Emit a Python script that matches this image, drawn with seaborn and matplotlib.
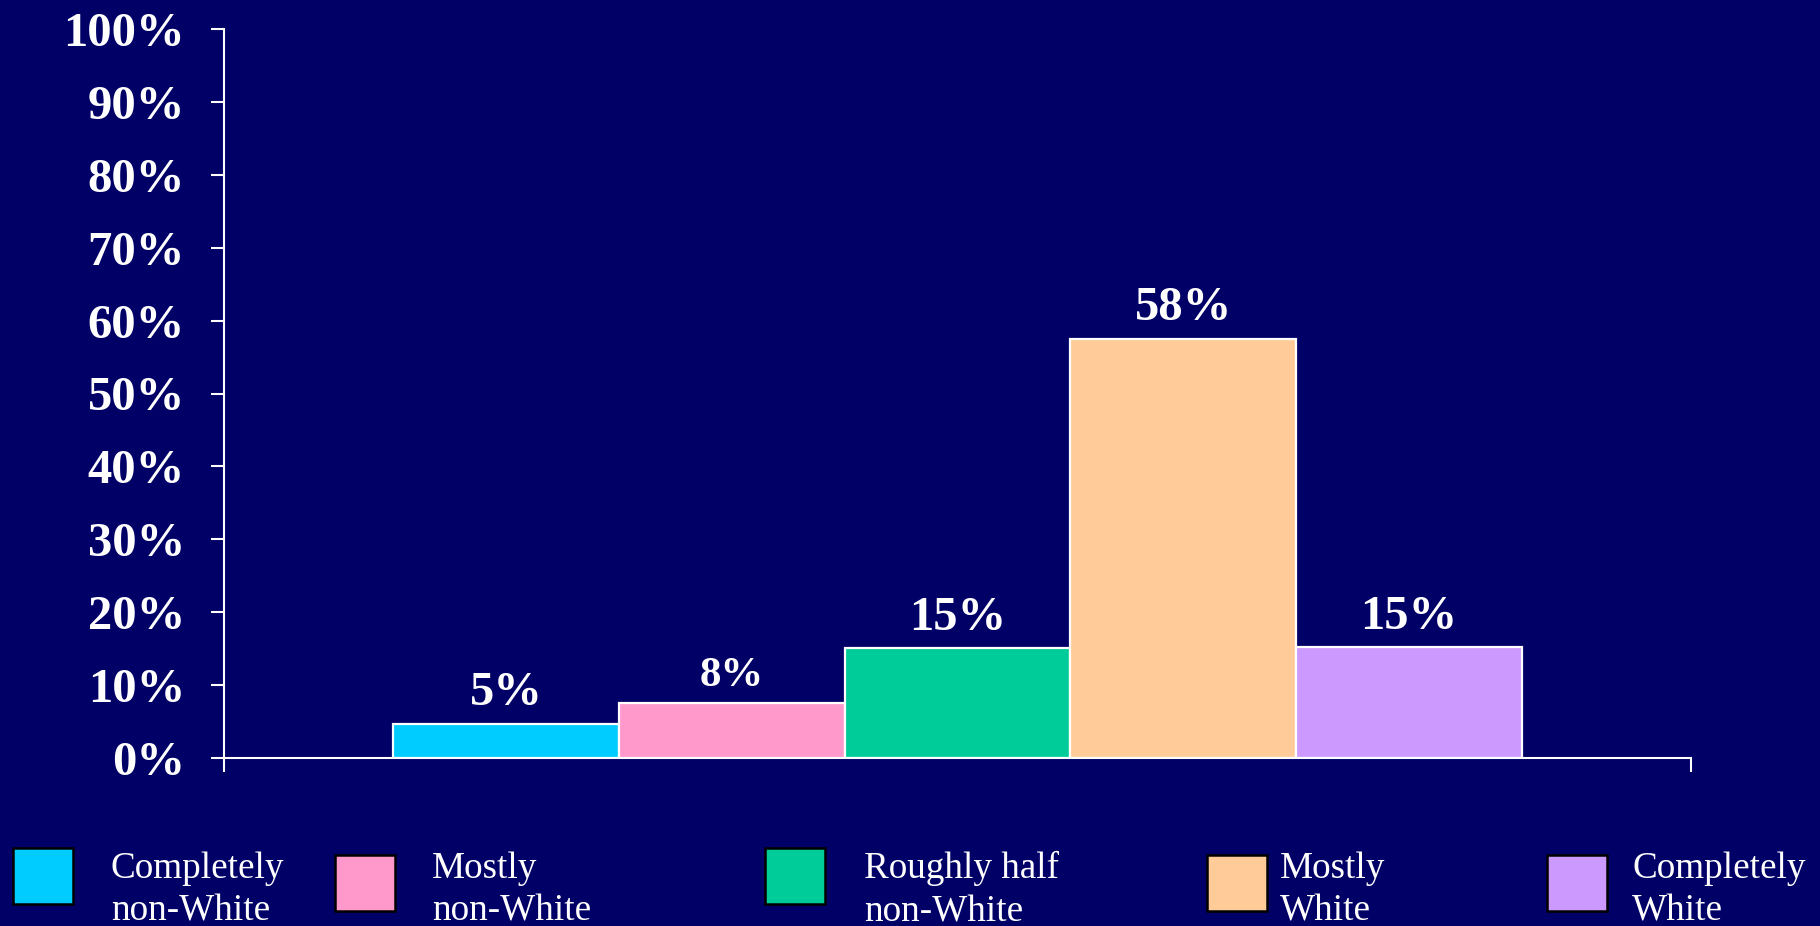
import matplotlib
matplotlib.use("Agg")
import matplotlib.pyplot as plt
from matplotlib.patches import Rectangle
import seaborn as sns
import pandas as pd

# ---- data ----
categories = ["Completely\nnon-White", "Mostly\nnon-White", "Roughly half\nnon-White",
              "Mostly\nWhite", "Completely\nWhite"]
values = [4.7, 7.5, 15.1, 57.5, 15.2]
value_labels = ["5%", "8%", "15%", "58%", "15%"]
ytick_values = [0, 10, 20, 30, 40, 50, 60, 70, 80, 90, 100]
ytick_labels = ["0%", "10%", "20%", "30%", "40%", "50%", "60%", "70%", "80%", "90%", "100%"]

# ---- style ----
colors = ["#00CCFF", "#FF99CC", "#00CC99", "#FFCC99", "#CC99FF"]
bg = "#000066"
label_sizes = [35, 31, 35, 35, 35]
legend_x_px = [13, 335, 765, 1207, 1547]      # square left edges (px)
legend_sq_y_px = [848, 855, 848, 855, 855]     # square top edges (px)
legend_text_x_px = [111, 432, 864, 1280, 1632]

W, H = 1820, 926
sns.set_theme(style="white")
plt.rcParams["font.family"] = ["Liberation Serif", "DejaVu Serif"]

fig = plt.figure(figsize=(W / 100, H / 100), dpi=100, facecolor=bg)
ax = fig.add_axes([224 / W, 1 - 758 / H, (1691 - 224) / W, (758 - 29) / H])
ax.set_facecolor(bg)

df = pd.DataFrame({"cat": categories, "val": values})
sns.barplot(data=df, x="cat", y="val", hue="cat", palette=colors, width=1.0,
            edgecolor="white", linewidth=1.6, legend=False, ax=ax, saturation=1)

for cont, lab, fs in zip(ax.containers, value_labels, label_sizes):
    ax.bar_label(cont, labels=[lab], padding=6, color="white",
                 fontsize=fs, fontweight="bold")

ax.set_xlim(-1.25, 5.25)
ax.set_ylim(0, 100)
ax.set_yticks(ytick_values)
ax.set_yticklabels(ytick_labels, fontsize=35, fontweight="bold", color="white")
ax.set_xticks([-1.25, 5.25])
ax.set_xticklabels(["", ""])
ax.set_xlabel("")
ax.set_ylabel("")
ax.tick_params(axis="y", direction="out", length=9.5, width=1.5, color="white",
               pad=18.5, left=True)
ax.tick_params(axis="x", direction="out", length=10, width=1.5, color="white", bottom=True)
for s in ["top", "right"]:
    ax.spines[s].set_visible(False)
for s in ["left", "bottom"]:
    ax.spines[s].set_color("white")
    ax.spines[s].set_linewidth(1.5)

# ---- legend ----
sq_w, sq_h = 60, 56
for i, cat in enumerate(categories):
    x0 = legend_x_px[i] / W
    y0 = 1 - (legend_sq_y_px[i] + sq_h) / H
    fig.add_artist(Rectangle((x0, y0), sq_w / W, sq_h / H, transform=fig.transFigure,
                             facecolor=colors[i], edgecolor="black", linewidth=1.8))
    fig.text(legend_text_x_px[i] / W, 1 - 851 / H, cat, color="white", fontsize=26.7,
             ha="left", va="top", linespacing=1.32)

fig.savefig("out.png", dpi=100, facecolor=bg)
